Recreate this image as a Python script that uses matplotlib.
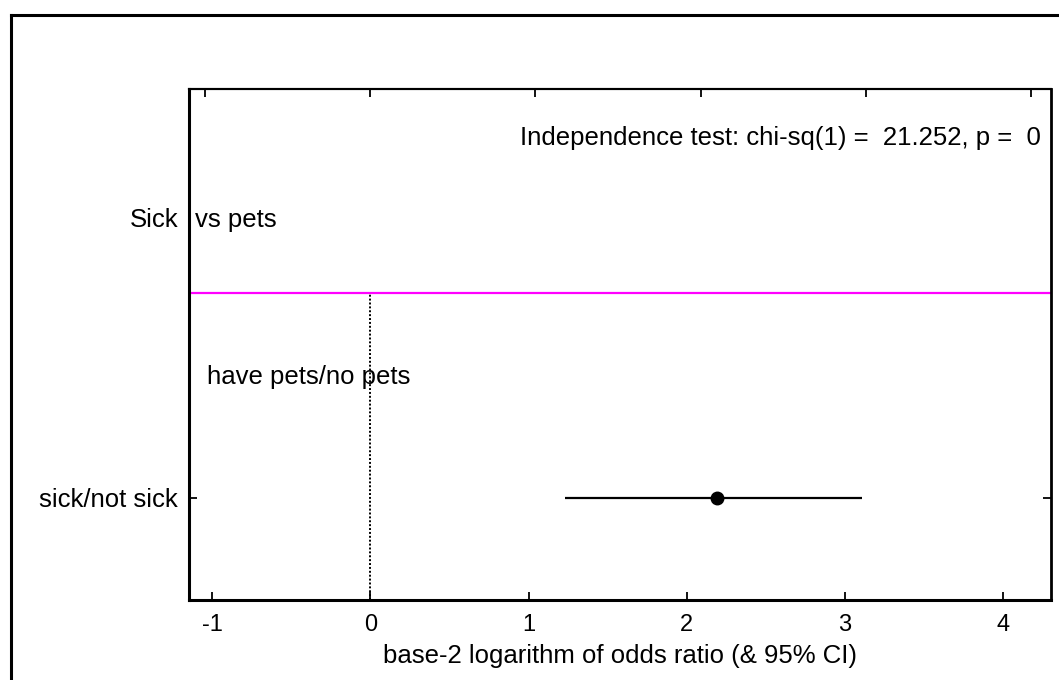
import matplotlib
matplotlib.use('Agg')
import matplotlib.pyplot as plt
import matplotlib.transforms as mtransforms
from matplotlib.lines import Line2D

plt.rcParams['font.family'] = ['Liberation Sans', 'DejaVu Sans']

# data
row_labels = ['sick/not sick']
row_pos = [1]
log2_or = [2.19]
ci_low = [1.23]
ci_high = [3.11]
xticks = [-1, 0, 1, 2, 3, 4]
chi_sq = 21.252
p_value = 0

fs = 18.5

fig = plt.figure(figsize=(10.59, 6.8), dpi=100)
ax = fig.add_axes([0.1785, 0.1176, 0.8140, 0.7515])

# outer frame (only top and left edges show in the crop)
fig.add_artist(Line2D([0.0104, 1.0], [0.978, 0.978], transform=fig.transFigure, color='black', lw=2.2))
fig.add_artist(Line2D([0.0104, 0.0104], [0.0, 0.978], transform=fig.transFigure, color='black', lw=2.2))

ax.set_xlim(-1.146, 4.303)
ax.set_ylim(0, 5)

# separator between header and table
ax.axhline(3, color='#ff00ff', lw=1.6, zorder=2)
ax.plot([0, 0], [0, 3], color='black', lw=1.4, linestyle=(0, (1, 1)), zorder=1)

for y, est, lo, hi in zip(row_pos, log2_or, ci_low, ci_high):
    ax.plot([lo, hi], [y, y], color='black', lw=1.6, solid_capstyle='butt')
    ax.plot(est, y, 'o', color='black', markersize=9)

ax.set_xticks(xticks)
ax.set_xticklabels([str(t) for t in xticks])
ax.set_yticks(row_pos)
ax.set_yticklabels(row_labels)
ax.tick_params(axis='x', direction='in', length=6, width=1.3, labelsize=17, pad=10, top=False)
ax.tick_params(axis='y', direction='in', length=6, width=1.3, labelsize=fs, pad=8, right=True)
ax.set_xlabel('base-2 logarithm of odds ratio (& 95% CI)', fontsize=fs, labelpad=6)

top = ax.secondary_xaxis('top', functions=(lambda v: v / 1.044, lambda v: v * 1.044))
top.set_xticks(xticks)
top.set_xticklabels([])
top.tick_params(direction='in', length=6, width=1.3)
top.spines['top'].set_linewidth(1.5)

ax.spines['left'].set_linewidth(2.2)
ax.spines['bottom'].set_linewidth(2.2)
ax.spines['top'].set_linewidth(1.5)
ax.spines['right'].set_linewidth(2.0)

blend = mtransforms.blended_transform_factory(ax.transAxes, ax.transData)
ax.text(-0.0128, 3.72, 'Sick', transform=blend, ha='right', va='center', fontsize=fs, clip_on=False)
ax.text(0.007, 3.72, 'vs pets', transform=blend, ha='left', va='center', fontsize=fs)
ax.text(0.988, 4.52, f'Independence test: chi-sq(1) =  {chi_sq:.3f}, p =  {p_value}',
        transform=blend, ha='right', va='center', fontsize=fs)
ax.text(0.021, 2.18, 'have pets/no pets', transform=blend, ha='left', va='center', fontsize=fs)

fig.savefig('out.png', dpi=100)
